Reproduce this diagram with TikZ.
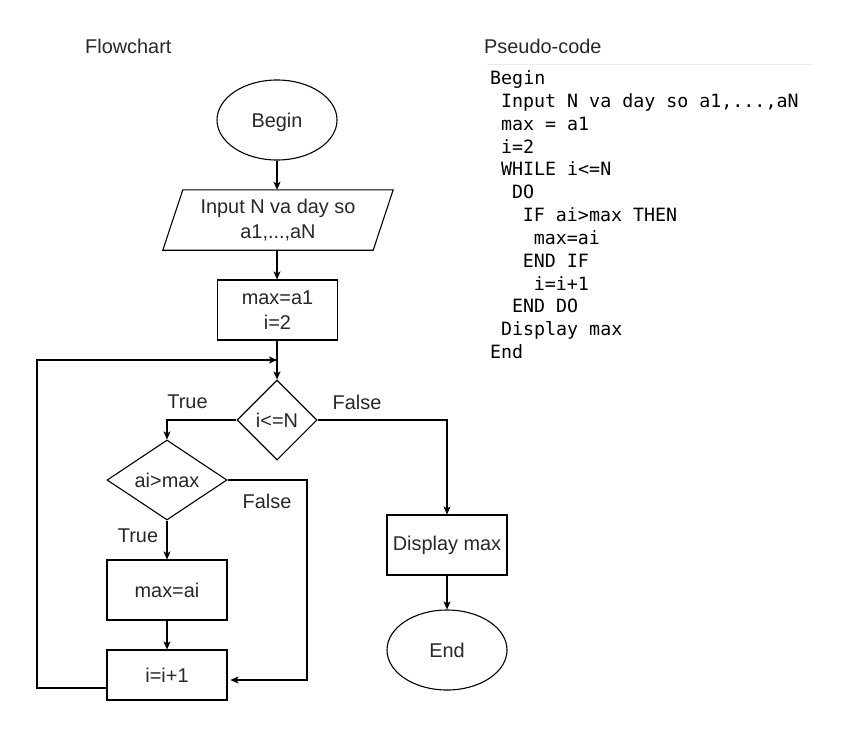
\documentclass[tikz,border=0pt]{standalone}
\usepackage{fontspec}
\setmainfont{Liberation Sans}
\newfontfamily\codefont{DejaVu Sans Mono}
\usetikzlibrary{shapes.geometric,arrows.meta}
\definecolor{txt}{RGB}{40,40,40}
\definecolor{rule}{RGB}{236,236,236}

\begin{document}
\begin{tikzpicture}[x=1pt,y=-1pt,
  every node/.style={inner sep=0pt, text=txt, font=\fontsize{19.9}{24.5}\selectfont},
  line/.style={line width=1.1pt, draw=black},
  flow/.style={line, -{Stealth[length=8pt,width=7pt,inset=2pt]}},
  box/.style={draw, line width=1.1pt, minimum width=120pt, minimum height=60pt, align=center},
  term/.style={box, ellipse, minimum height=80pt, text depth=0pt},
  decision/.style={draw, line width=1.1pt, diamond, aspect=1.5, text depth=0pt},
  lbl/.style={text depth=0pt},
  title/.style={anchor=base west},
  code/.style={anchor=base west, text=black, font=\codefont\fontsize{18.3}{22.8}\selectfont}
]
\useasboundingbox[fill=white] (0,0) rectangle (845,731);

% headings
\node[title] (hflow) at (85,53) {Flowchart};
\node[title] (hcode) at (484,53) {Pseudo-code};
\draw[rule, line width=1.5pt] (487,64.5) -- (813,64.5);

% flowchart shapes
\node[term] (begin) at (277,120) {Begin};
\node[minimum width=210pt, minimum height=60pt, align=center] (input) at (278,220)
  {Input N va day so\\a1,...,aN};
\draw[line] ([xshift=-10pt]input.south west) -- ([xshift=10pt]input.north west)
  -- ([xshift=10pt]input.north east) -- ([xshift=-10pt]input.south east) -- cycle;
\node[box] (init) at (277.5,310) {max=a1\\i=2};
\node[decision, minimum width=80pt, minimum height=80pt] (cond1) at (277,420) {i<=N};
\node[decision, minimum width=120pt, minimum height=80pt] (cond2) at (167,480) {ai>max};
\node[box, text depth=0pt] (setmax) at (167,590) {max=ai};
\node[box, minimum height=50pt] (inc) at (167,675) {i=i+1};
\node[box] (disp) at (447,545) {Display max};
\node[term] (finish) at (447,650) {End};

% branch labels
\node[lbl] (t1) at (187.5,402) {True};
\node[lbl] (f1) at (357,402) {False};
\node[lbl] (t2) at (138,536) {True};
\node[lbl] (f2) at (267,501) {False};

% connectors
\draw[flow] (begin.south) -- (begin.south |- input.north);
\draw[flow] (begin.south |- input.south) -- (init.north -| begin.south);
\draw[flow] (init.south -| cond1.north) -- (cond1.north);
\draw[flow] (cond1.west) -| (cond2.north);
\draw[flow] (cond1.east) -| (disp.north);
\draw[flow] (cond2.south) -- (setmax.north);
\draw[flow] (setmax.south) -- (inc.north);
\draw[flow] (disp.south) -- (finish.north);

\coordinate (fr) at (307,680);
\draw[flow] (cond2.east) -| (fr) -- ([xshift=3pt]inc.east |- fr);

\coordinate (lb) at (37,688);
\coordinate (lt) at (37,360);
\draw[flow] (inc.west |- lb) -- (lb) -- (lt) -- (cond1.north |- lt);

% pseudo-code listing
\node[code] (p1)  at (490,84.6)    {Begin};
\node[code] (p2)  at (500.9,107.4) {Input N va day so a1,...,aN};
\node[code] (p3)  at (500.9,130.3) {max = a1};
\node[code] (p4)  at (500.9,153.1) {i=2};
\node[code] (p5)  at (500.9,175.9) {WHILE i<=N};
\node[code] (p6)  at (511.8,198.8) {DO};
\node[code] (p7)  at (522.7,221.6) {IF ai>max THEN};
\node[code] (p8)  at (533.6,244.4) {max=ai};
\node[code] (p9)  at (522.7,267.2) {END IF};
\node[code] (p10) at (533.6,290.1) {i=i+1};
\node[code] (p11) at (511.8,312.9) {END DO};
\node[code] (p12) at (500.9,335.7) {Display max};
\node[code] (p13) at (490,358.6)   {End};
\end{tikzpicture}
\end{document}
